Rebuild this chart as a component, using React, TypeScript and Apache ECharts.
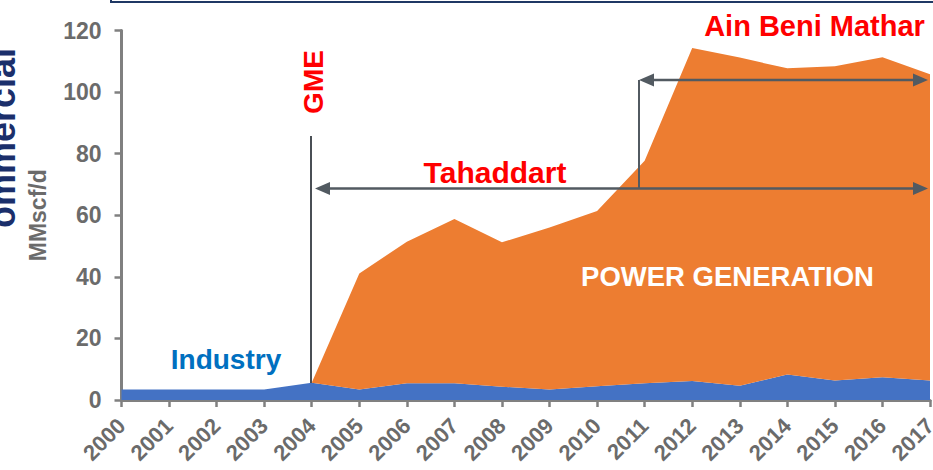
import React, { useEffect, useRef } from "react";
import * as echarts from "echarts";

const years = [
  "2000", "2001", "2002", "2003", "2004", "2005", "2006", "2007", "2008",
  "2009", "2010", "2011", "2012", "2013", "2014", "2015", "2016", "2017",
];
const industry = [3.4, 3.4, 3.4, 3.4, 5.6, 3.4, 5.4, 5.4, 4.3, 3.4, 4.5, 5.4, 6.2, 4.6, 8.3, 6.3, 7.4, 6.3];
const powerGeneration = [null, null, null, null, 0, 37.7, 46.0, 53.4, 46.9, 52.6, 56.9, 72.3, 108.1, 106.6, 99.4, 102.1, 103.9, 99.5];
const yMin = 0;
const yMax = 120;
const yInterval = 20;

const FONT = "'Liberation Sans', Arial, sans-serif";
const ARROW = "#525A61";
const RED = "#FF0000";

function arrowHead(tipX: number, y: number, dir: number) {
  const len = 15;
  const half = 6.5;
  return {
    type: "polygon",
    z: 100,
    shape: { points: [[tipX, y], [tipX + dir * len, y - half], [tipX + dir * len, y + half]] },
    style: { fill: ARROW },
    silent: true,
  };
}

function doubleArrow(x1: number, x2: number, y: number) {
  return [
    {
      type: "line",
      z: 100,
      shape: { x1: x1 + 8, y1: y, x2: x2 - 8, y2: y },
      style: { stroke: ARROW, lineWidth: 2.5 },
      silent: true,
    },
    arrowHead(x1, y, 1),
    arrowHead(x2, y, -1),
  ];
}

function label(text: string, x: number, y: number, size: number, fill: string, rotation = 0) {
  return {
    type: "text",
    z: 100,
    x,
    y,
    rotation,
    style: { text, fill, font: `bold ${size}px ${FONT}`, align: "center", verticalAlign: "middle" },
    silent: true,
  };
}

export default function App() {
  const ref = useRef<HTMLDivElement>(null);
  useEffect(() => {
    if (!ref.current) return;
    const chart = echarts.init(ref.current, null, { renderer: "svg" });
    const graphic: any[] = [
      {
        type: "rect",
        z: 100,
        shape: { x: 111, y: -20, width: 900, height: 22 },
        style: { fill: "none", stroke: "#1F3864", lineWidth: 2 },
        silent: true,
      },
      label("ommercial", 2.5, 138, 36, "#1B2F6B", Math.PI / 2),
      {
        type: "line",
        z: 100,
        shape: { x1: 311, y1: 136, x2: 311, y2: 383 },
        style: { stroke: "#4A4F55", lineWidth: 2 },
        silent: true,
      },
      label("GME", 313, 82, 28, RED, Math.PI / 2),
      ...doubleArrow(315, 928, 188.5),
      ...doubleArrow(639, 928, 80),
      {
        type: "line",
        z: 100,
        shape: { x1: 639, y1: 80, x2: 639, y2: 189 },
        style: { stroke: ARROW, lineWidth: 2 },
        silent: true,
      },
      label("Tahaddart", 495, 172.5, 30, RED),
      label("Ain Beni Mathar", 814.5, 26, 29, RED),
      label("POWER GENERATION", 727.5, 276.5, 27.5, "#FFFFFF"),
      label("Industry", 226, 359.5, 28, "#0070C0"),
    ];

    chart.setOption({
      animation: false,
      grid: { left: 121.5, right: 3, top: 30.5, bottom: 70, containLabel: false, outerBoundsMode: "none" },
      xAxis: {
        type: "category",
        data: years,
        boundaryGap: false,
        axisLine: { show: true, lineStyle: { color: "#808080", width: 3 } },
        axisTick: { show: true, length: 7, lineStyle: { color: "#808080", width: 2.5 } },
        axisLabel: {
          rotate: 45,
          fontSize: 22,
          fontWeight: "bold",
          fontFamily: FONT,
          color: "#6B6B6B",
          margin: 22,
          interval: 0,
        },
        splitLine: { show: false },
      },
      yAxis: {
        type: "value",
        min: yMin,
        max: yMax,
        interval: yInterval,
        name: "MMscf/d",
        nameLocation: "middle",
        nameRotate: 90,
        nameGap: 72,
        nameTextStyle: { fontSize: 23, fontWeight: "bold", fontFamily: FONT, color: "#6B6B6B" },
        axisLine: { show: true, lineStyle: { color: "#808080", width: 3 } },
        axisTick: { show: true, length: 7, lineStyle: { color: "#808080", width: 2.5 } },
        axisLabel: { fontSize: 23, fontWeight: "bold", fontFamily: FONT, color: "#6B6B6B", margin: 20 },
        splitLine: { show: false },
      },
      series: [
        {
          name: "Industry",
          type: "line",
          stack: "total",
          data: industry,
          showSymbol: false,
          symbol: "none",
          lineStyle: { width: 0 },
          areaStyle: { color: "#4472C4", opacity: 1 },
          z: 2,
        },
        {
          name: "Power generation",
          type: "line",
          stack: "total",
          data: powerGeneration,
          showSymbol: false,
          symbol: "none",
          lineStyle: { width: 0 },
          areaStyle: { color: "#ED7D31", opacity: 1 },
          z: 2,
        },
      ],
      graphic,
    });
    return () => chart.dispose();
  }, []);
  return (
    <div
      ref={ref}
      style={{ position: "fixed", left: 0, top: 0, width: 933, height: 470, background: "#fff" }}
    />
  );
}
